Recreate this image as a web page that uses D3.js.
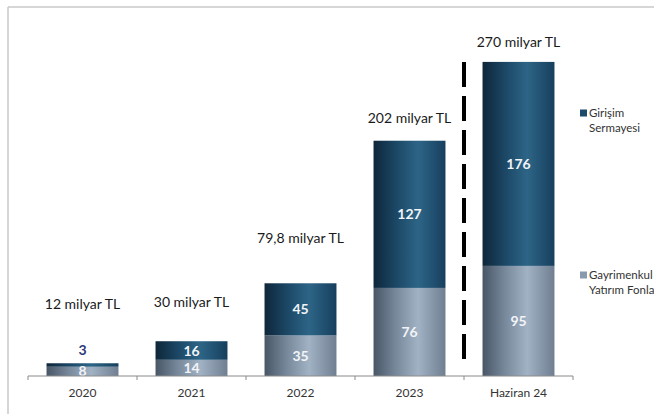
<!DOCTYPE html>
<html>
<head>
<meta charset="utf-8">
<script src="https://cdn.jsdelivr.net/npm/d3@7"></script>
<style>
  html, body { margin: 0; padding: 0; background: #fff; }
  svg { display: block; }
  text { font-family: Lato, "Open Sans", sans-serif; }
</style>
</head>
<body>
<svg id="chart" width="654" height="414"></svg>
<script>
// ---- data ----
const categories = ["2020", "2021", "2022", "2023", "Haziran 24"];
const gyfValues = [8, 14, 35, 76, 95];          // Gayrimenkul Yatırım Fonları
const gsfValues = [3, 16, 45, 127, 176];        // Girişim Sermayesi
const totalLabels = ["12 milyar TL", "30 milyar TL", "79,8 milyar TL", "202 milyar TL", "270 milyar TL"];
const legendLabels = [["Girişim", "Sermayesi"], ["Gayrimenkul", "Yatırım Fonları"]];

// layout-only constants (pixel lift of each total label above its bar)
const labelLift = [59, 39, 45, 23, 20];

const svg = d3.select("#chart");
const defs = svg.append("defs");

function grad(id, stops) {
  const g = defs.append("linearGradient").attr("id", id)
    .attr("x1", "0%").attr("x2", "100%").attr("y1", "0%").attr("y2", "0%");
  stops.forEach(s => g.append("stop").attr("offset", s[0]).attr("stop-color", s[1]));
}
grad("gDark", [["0%", "#0e2639"], ["30%", "#1b4664"], ["62%", "#2d6587"], ["100%", "#173f5d"]]);
grad("gLight", [["0%", "#485666"], ["30%", "#76879a"], ["62%", "#a2b2c5"], ["100%", "#6f7f91"]]);

// frame
svg.append("line").attr("x1", 8).attr("x2", 8).attr("y1", 7).attr("y2", 414)
  .attr("stroke", "#c9c9c9").attr("stroke-width", 1.5);
svg.append("line").attr("x1", 8).attr("x2", 654).attr("y1", 7).attr("y2", 7)
  .attr("stroke", "#c9c9c9").attr("stroke-width", 1.5);

const x = d3.scaleBand().domain(categories).range([28, 573])
  .paddingInner(0.34).paddingOuter(0.17);
const y = d3.scaleLinear().domain([0, 300]).range([376, 376 - 300 * 1.159]);

const data = categories.map((c, i) => ({ c, gyf: gyfValues[i], gsf: gsfValues[i], i }));

// bars
const g = svg.append("g");
g.selectAll("rect.gyf").data(data).join("rect").attr("class", "gyf")
  .attr("x", d => x(d.c)).attr("width", x.bandwidth())
  .attr("y", d => y(d.gyf)).attr("height", d => y(0) - y(d.gyf))
  .attr("fill", "url(#gLight)");
g.selectAll("rect.gsf").data(data).join("rect").attr("class", "gsf")
  .attr("x", d => x(d.c)).attr("width", x.bandwidth())
  .attr("y", d => y(d.gyf + d.gsf)).attr("height", d => y(d.gyf) - y(d.gyf + d.gsf))
  .attr("fill", "url(#gDark)");

// axis
const base = y(0);
svg.append("line").attr("x1", 28).attr("x2", 573).attr("y1", base).attr("y2", base)
  .attr("stroke", "#8a8a8a").attr("stroke-width", 1);
const tickPos = d3.range(categories.length + 1).map(k => 28 + k * x.step());
svg.selectAll("line.tick").data(tickPos).join("line").attr("class", "tick")
  .attr("x1", d => d).attr("x2", d => d).attr("y1", base).attr("y2", base + 4)
  .attr("stroke", "#8a8a8a");
const ax = svg.append("g").attr("transform", `translate(0,${base})`)
  .call(d3.axisBottom(x).tickSize(0).tickPadding(12));
ax.select(".domain").remove();
ax.selectAll("text").attr("font-size", 12).attr("fill", "#333")
  .attr("font-family", "Lato, 'Open Sans', sans-serif");

// segment labels
g.selectAll("text.gyfL").data(data).join("text").attr("class", "gyfL")
  .attr("x", d => x(d.c) + x.bandwidth() / 2)
  .attr("y", d => (y(0) + y(d.gyf)) / 2)
  .attr("dy", "0.36em").attr("text-anchor", "middle")
  .attr("font-size", 14).attr("font-weight", "bold").attr("fill", "#f2f4f7")
  .text(d => d.gyf);
g.selectAll("text.gsfL").data(data).join("text").attr("class", "gsfL")
  .attr("x", d => x(d.c) + x.bandwidth() / 2)
  .attr("y", d => d.gsf < 8 ? y(d.gyf + d.gsf) - 13 : (y(d.gyf) + y(d.gyf + d.gsf)) / 2)
  .attr("dy", "0.36em").attr("text-anchor", "middle")
  .attr("font-size", 14).attr("font-weight", "bold")
  .attr("fill", d => d.gsf < 8 ? "#2b3878" : "#f2f4f7")
  .text(d => d.gsf);

// totals
g.selectAll("text.tot").data(data).join("text").attr("class", "tot")
  .attr("x", d => x(d.c) + x.bandwidth() / 2)
  .attr("y", d => y(d.gyf + d.gsf) - labelLift[d.i])
  .attr("dy", "0.36em").attr("text-anchor", "middle")
  .attr("font-size", 14).attr("fill", "#1a1a1a")
  .text(d => totalLabels[d.i]);

// dashed separator between 2023 and Haziran 24
const sepX = x("Haziran 24") - (x.step() - x.bandwidth()) / 2;
svg.append("line").attr("x1", sepX).attr("x2", sepX)
  .attr("y1", y(gyfValues[4] + gsfValues[4])).attr("y2", base - 8)
  .attr("stroke", "#000").attr("stroke-width", 4).attr("stroke-dasharray", "25,9");

// legend
const legend = svg.append("g");
const legColors = ["#1b4a6b", "#8a9aae"];
const legY = [113, 275];
legendLabels.forEach((lines, k) => {
  legend.append("rect").attr("x", 580).attr("y", legY[k] - 3.5).attr("width", 7).attr("height", 7)
    .attr("fill", legColors[k]);
  lines.forEach((t, j) => {
    legend.append("text").attr("x", 589).attr("y", legY[k] + j * 15)
      .attr("dy", "0.36em").attr("font-size", 11.5).attr("fill", "#333").text(t);
  });
});
</script>
</body>
</html>
